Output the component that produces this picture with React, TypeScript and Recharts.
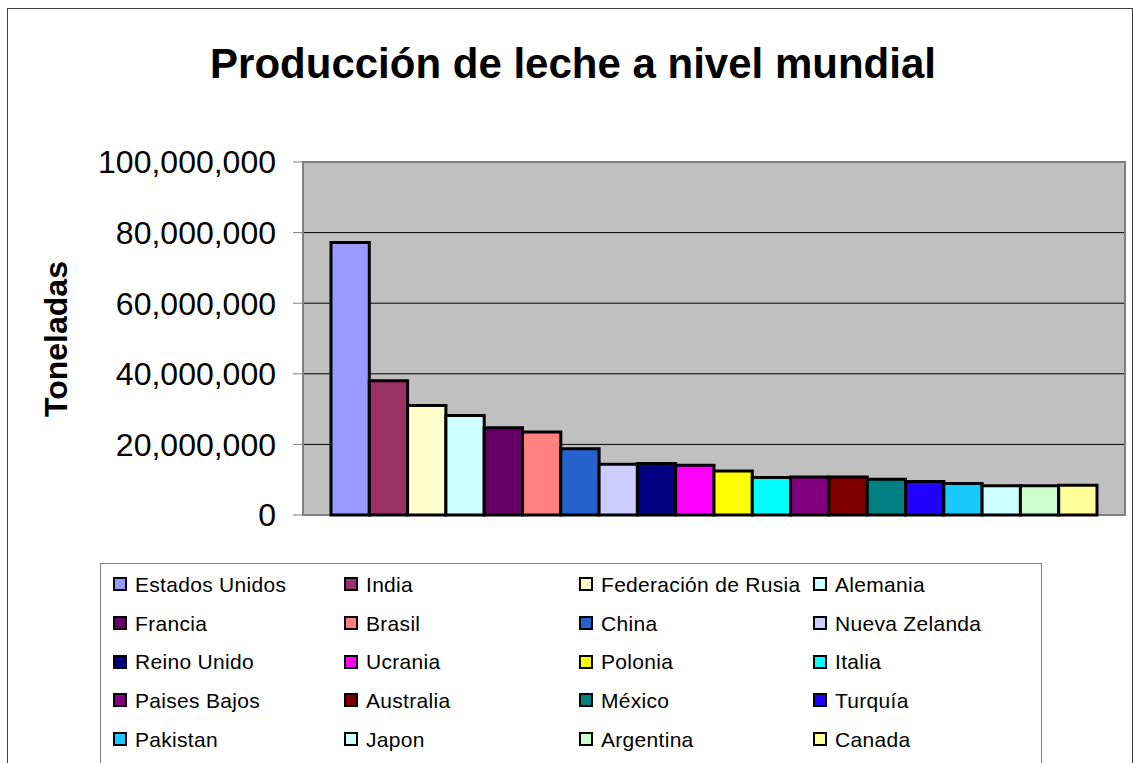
import React from 'react'
import { BarChart, Bar, XAxis, YAxis, CartesianGrid, ReferenceArea } from 'recharts'

const countries = [
  'Estados Unidos', 'India', 'Federación de Rusia', 'Alemania',
  'Francia', 'Brasil', 'China', 'Nueva Zelanda',
  'Reino Unido', 'Ucrania', 'Polonia', 'Italia',
  'Paises Bajos', 'Australia', 'México', 'Turquía',
  'Pakistan', 'Japon', 'Argentina', 'Canada',
]

const production = [
  77200000, 38000000, 31000000, 28200000,
  24700000, 23500000, 18800000, 14400000,
  14600000, 14100000, 12500000, 10600000,
  10800000, 10800000, 10100000, 9500000,
  8900000, 8300000, 8300000, 8400000,
]

const colors = [
  '#9999FF', '#993366', '#FFFFCC', '#CCFFFF',
  '#660066', '#FF8080', '#2662CC', '#CCCCFF',
  '#000080', '#FF00FF', '#FFFF00', '#00FFFF',
  '#800080', '#800000', '#008080', '#2200FF',
  '#19C8FF', '#CCFFFF', '#CCFFCC', '#FFFF99',
]

const yTicks = [0, 20000000, 40000000, 60000000, 80000000, 100000000]

const FONT = '"Liberation Sans", Arial, Helvetica, sans-serif'

export default function App() {
  // una sola categoría, una serie por país (como el gráfico de Excel)
  const row: Record<string, string | number> = { name: 'Producción' }
  countries.forEach((c, i) => { row[c] = production[i] })
  const chartData = [row]

  return (
    <div style={{ position: 'absolute', left: 0, top: 0, width: 1133, height: 763, overflow: 'hidden', background: '#fff', fontFamily: FONT }}>
      <div style={{ position: 'absolute', left: 7, top: 8, width: 1124, height: 780, border: '1px solid #404040' }} />

      <div style={{ position: 'absolute', left: 0, width: 1146, top: 43, textAlign: 'center', fontSize: 42, fontWeight: 'bold', lineHeight: '42px', color: '#000' }}>
        Producción de leche a nivel mundial
      </div>

      <div style={{ position: 'absolute', left: 56, top: 339, transform: 'translate(-50%, -50%) rotate(-90deg)', fontSize: 32, fontWeight: 'bold', lineHeight: '32px', whiteSpace: 'nowrap', color: '#000' }}>
        Toneladas
      </div>

      <div style={{ position: 'absolute', left: 0, top: 0 }}>
        <BarChart
          width={1133}
          height={763}
          data={chartData}
          margin={{ top: 162, right: 8, bottom: 248, left: 53 }}
          barGap={0}
          barSize={38.3}
        >
          <CartesianGrid horizontal vertical={false} stroke="#000" strokeWidth={1} fill="#C0C0C0" fillOpacity={1} />
          <XAxis dataKey="name" tick={false} tickLine={false} height={0} axisLine={{ stroke: '#808080', strokeWidth: 2 }} />
          <YAxis
            width={250}
            domain={[0, 100000000]}
            ticks={yTicks}
            interval={0}
            tickSize={10}
            tickMargin={17}
            tickLine={{ stroke: '#808080', strokeWidth: 1 }}
            axisLine={{ stroke: '#808080', strokeWidth: 2 }}
            tick={{ fontSize: 32, fill: '#000', fontFamily: FONT }}
            tickFormatter={(v: number) => v.toLocaleString('en-US')}
          />
          <ReferenceArea y1={0} y2={100000000} fill="none" stroke="#808080" strokeWidth={2} />
          {countries.map((c, i) => (
            <Bar key={c} dataKey={c} fill={colors[i]} stroke="#000" strokeWidth={3} isAnimationActive={false} />
          ))}
        </BarChart>
      </div>

      <div style={{ position: 'absolute', left: 100, top: 563, width: 940, height: 210, border: '1px solid #808080', background: '#fff' }}>
        <div style={{ display: 'grid', gridTemplateColumns: '231px 235px 234px 230px', gridAutoRows: '38.7px', paddingLeft: 12, paddingTop: 1 }}>
          {countries.map((c, i) => (
            <div key={c} style={{ display: 'flex', alignItems: 'center', whiteSpace: 'nowrap' }}>
              <span style={{ display: 'inline-block', width: 10, height: 10, border: '2px solid #000', background: colors[i], marginRight: 8 }} />
              <span style={{ fontSize: 21, color: '#000', lineHeight: '21px', letterSpacing: 0.3 }}>{c}</span>
            </div>
          ))}
        </div>
      </div>
    </div>
  )
}
